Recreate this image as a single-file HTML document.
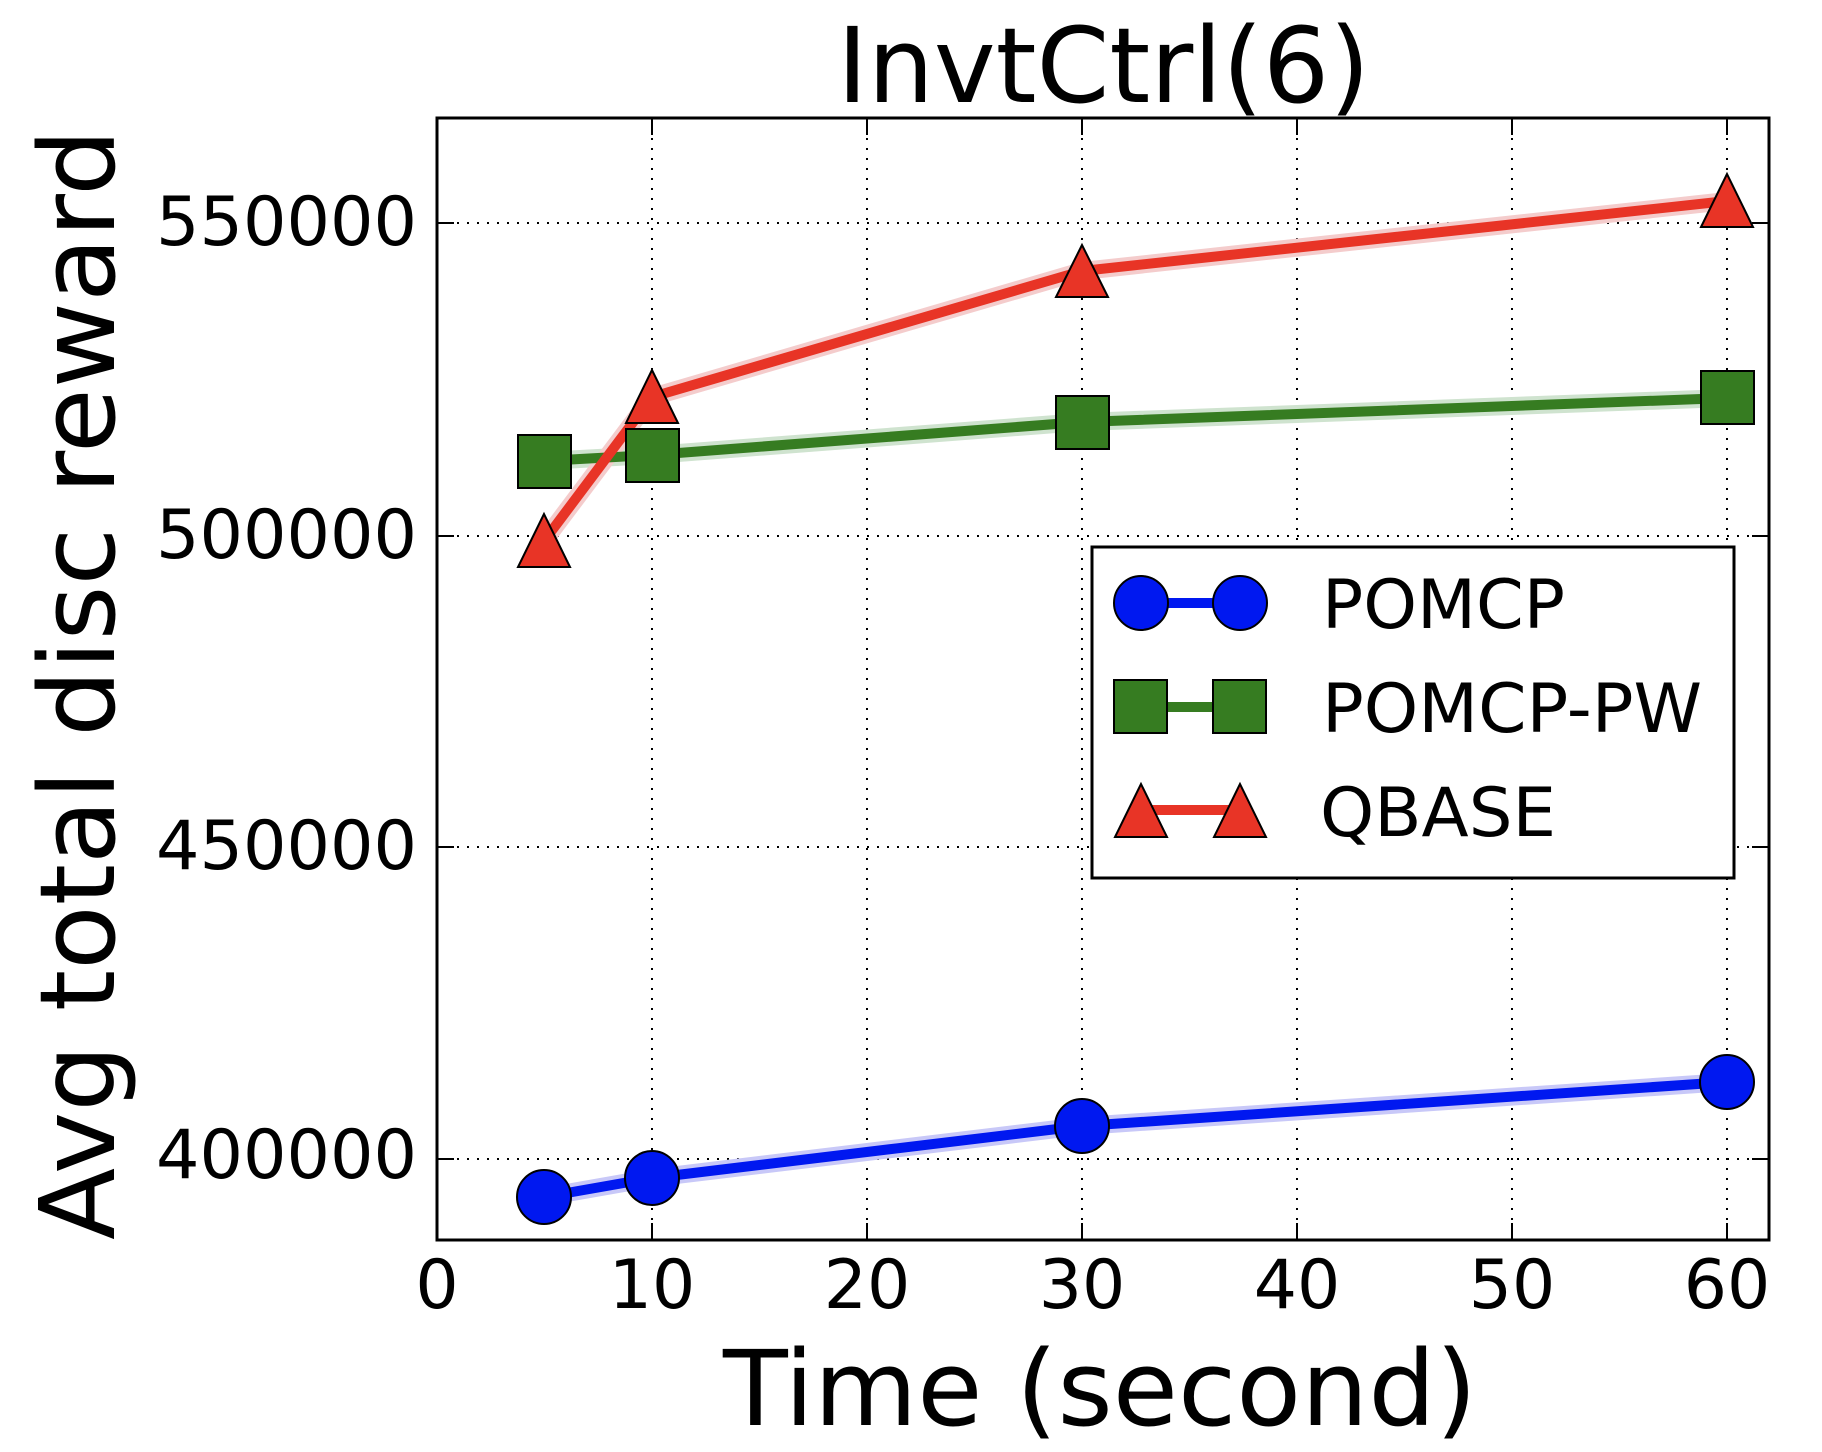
<!DOCTYPE html>
<html><head><meta charset="utf-8"><style>html,body{margin:0;padding:0;background:#fff}svg{display:block}</style></head>
<body>
<svg width="1822" height="1452" viewBox="0 0 1822 1452" xmlns="http://www.w3.org/2000/svg" font-family="'DejaVu Sans','Liberation Sans',sans-serif">
<rect width="1822" height="1452" fill="#fff"/>
<!-- grid -->
<g stroke="#000" stroke-width="2" stroke-dasharray="2,8" fill="none">
<line x1="652" y1="118" x2="652" y2="1240"/>
<line x1="867" y1="118" x2="867" y2="1240"/>
<line x1="1082" y1="118" x2="1082" y2="1240"/>
<line x1="1297" y1="118" x2="1297" y2="1240"/>
<line x1="1512" y1="118" x2="1512" y2="1240"/>
<line x1="1727" y1="118" x2="1727" y2="1240"/>
<line x1="437" y1="223" x2="1769" y2="223"/>
<line x1="437" y1="536" x2="1769" y2="536"/>
<line x1="437" y1="847" x2="1769" y2="847"/>
<line x1="437" y1="1159" x2="1769" y2="1159"/>
</g>
<!-- ticks -->
<g stroke="#000" stroke-width="2">
<line x1="652" y1="1240" x2="652" y2="1223"/><line x1="867" y1="1240" x2="867" y2="1223"/><line x1="1082" y1="1240" x2="1082" y2="1223"/><line x1="1297" y1="1240" x2="1297" y2="1223"/><line x1="1512" y1="1240" x2="1512" y2="1223"/><line x1="1727" y1="1240" x2="1727" y2="1223"/>
<line x1="652" y1="118" x2="652" y2="135"/><line x1="867" y1="118" x2="867" y2="135"/><line x1="1082" y1="118" x2="1082" y2="135"/><line x1="1297" y1="118" x2="1297" y2="135"/><line x1="1512" y1="118" x2="1512" y2="135"/><line x1="1727" y1="118" x2="1727" y2="135"/>
<line x1="437" y1="223" x2="454" y2="223"/><line x1="437" y1="536" x2="454" y2="536"/><line x1="437" y1="847" x2="454" y2="847"/><line x1="437" y1="1159" x2="454" y2="1159"/>
<line x1="1769" y1="223" x2="1752" y2="223"/><line x1="1769" y1="536" x2="1752" y2="536"/><line x1="1769" y1="847" x2="1752" y2="847"/><line x1="1769" y1="1159" x2="1752" y2="1159"/>
</g>
<!-- bands -->
<g fill="none" stroke-linejoin="round" stroke-width="18">
<polyline points="544,1197 652,1178 1082,1126 1727,1082" stroke="#c8c8f8"/>
<polyline points="544,461 652,455 1082,422 1727,398" stroke="#cfe3cf"/>
<polyline points="544,541 652,397 1082,271 1727,201" stroke="#f4cccc"/>
</g>
<g fill="none" stroke-linejoin="round" stroke-width="10">
<polyline points="544,1197 652,1178 1082,1126 1727,1082" stroke="#0018f0"/>
<polyline points="544,461 652,455 1082,422 1727,398" stroke="#367c21"/>
<polyline points="544,541 652,397 1082,271 1727,201" stroke="#e83426"/>
</g>
<!-- markers -->
<g fill="#0018f0" stroke="#000" stroke-width="2">
<circle cx="544" cy="1197" r="27"/><circle cx="652" cy="1178" r="27"/><circle cx="1082" cy="1126" r="27"/><circle cx="1727" cy="1082" r="27"/>
</g>
<g fill="#367c21" stroke="#000" stroke-width="2">
<rect x="518" y="435" width="53" height="53"/><rect x="626" y="429" width="53" height="53"/><rect x="1056" y="396" width="53" height="53"/><rect x="1701" y="371" width="53" height="53"/>
</g>
<g fill="#e83426" stroke="#000" stroke-width="2">
<polygon points="544,514 518,567 570,567"/>
<polygon points="652,370 626,423 678,423"/>
<polygon points="1082,245 1056,297 1108,297"/>
<polygon points="1727,174 1701,227 1753,227"/>
</g>
<!-- axes frame -->
<rect x="437" y="118" width="1332" height="1122" fill="none" stroke="#000" stroke-width="3"/>
<!-- tick labels -->
<g font-size="68" fill="#000">
<text x="156" y="245" textLength="261" lengthAdjust="spacingAndGlyphs">550000</text>
<text x="156" y="558" textLength="261" lengthAdjust="spacingAndGlyphs">500000</text>
<text x="156" y="869" textLength="261" lengthAdjust="spacingAndGlyphs">450000</text>
<text x="156" y="1178" textLength="261" lengthAdjust="spacingAndGlyphs">400000</text>
</g>
<g font-size="68" fill="#000" text-anchor="middle">
<text x="437" y="1308">0</text>
<text x="652" y="1308">10</text>
<text x="867" y="1308">20</text>
<text x="1082" y="1308">30</text>
<text x="1297" y="1308">40</text>
<text x="1512" y="1308">50</text>
<text x="1727" y="1308">60</text>
</g>
<!-- title and labels -->
<text x="837" y="102" font-size="104" textLength="533" lengthAdjust="spacingAndGlyphs">InvtCtrl(6)</text>
<text x="723" y="1425" font-size="104" textLength="754" lengthAdjust="spacingAndGlyphs">Time (second)</text>
<text transform="translate(114,1240) rotate(-90)" x="0" y="0" font-size="104" textLength="1111" lengthAdjust="spacingAndGlyphs">Avg total disc reward</text>
<!-- legend -->
<rect x="1092" y="547" width="642" height="331" fill="#fff" stroke="#000" stroke-width="3"/>
<line x1="1141" y1="603" x2="1240" y2="603" stroke="#0018f0" stroke-width="10"/>
<circle cx="1141" cy="603" r="27" fill="#0018f0" stroke="#000" stroke-width="2"/>
<circle cx="1240" cy="603" r="27" fill="#0018f0" stroke="#000" stroke-width="2"/>
<line x1="1141" y1="707" x2="1240" y2="707" stroke="#367c21" stroke-width="10"/>
<rect x="1114" y="680" width="53" height="53" fill="#367c21" stroke="#000" stroke-width="2"/>
<rect x="1213" y="680" width="53" height="53" fill="#367c21" stroke="#000" stroke-width="2"/>
<line x1="1141" y1="810" x2="1240" y2="810" stroke="#e83426" stroke-width="10"/>
<polygon points="1141,784 1115,837 1167,837" fill="#e83426" stroke="#000" stroke-width="2"/>
<polygon points="1240,784 1214,837 1266,837" fill="#e83426" stroke="#000" stroke-width="2"/>
<g font-size="68" fill="#000">
<text x="1322" y="628" textLength="243" lengthAdjust="spacingAndGlyphs">POMCP</text>
<text x="1322" y="732" textLength="380" lengthAdjust="spacingAndGlyphs">POMCP-PW</text>
<text x="1320" y="836" textLength="236" lengthAdjust="spacingAndGlyphs">QBASE</text>
</g>
</svg>
</body></html>
